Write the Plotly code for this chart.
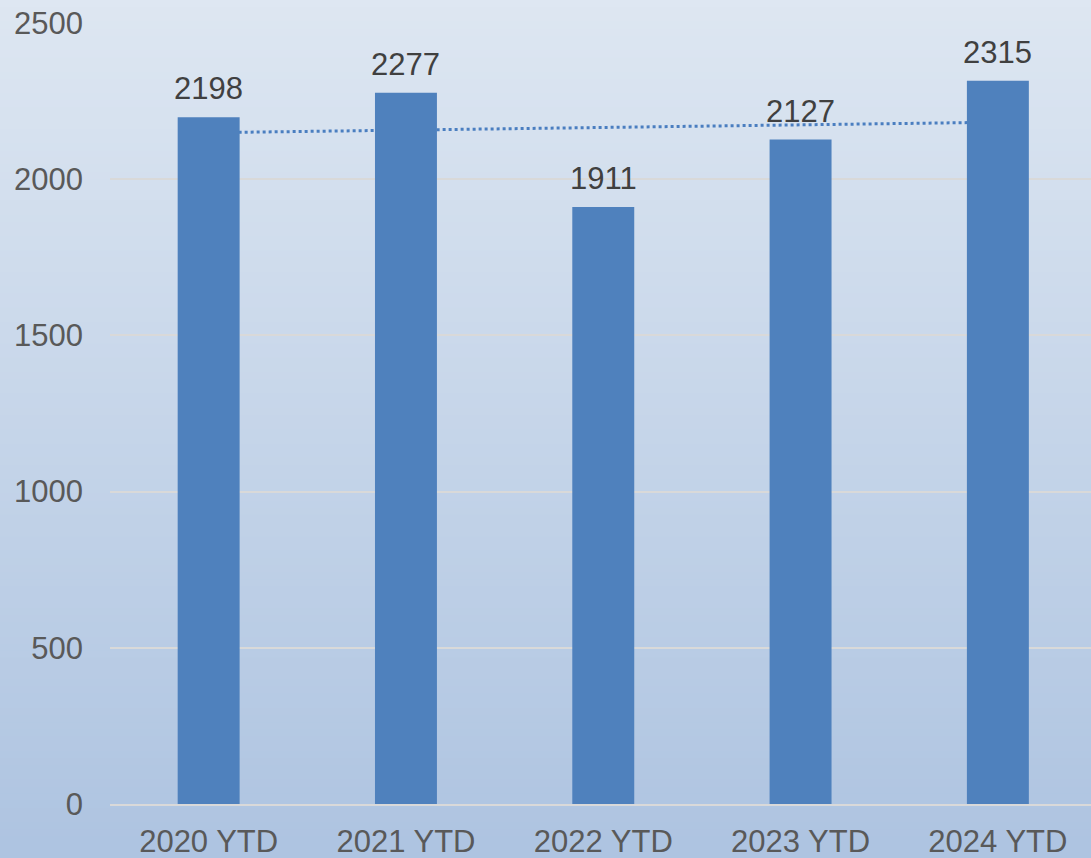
import plotly.graph_objects as go
import numpy as np

categories = ["2020 YTD", "2021 YTD", "2022 YTD", "2023 YTD", "2024 YTD"]
values = [2198, 2277, 1911, 2127, 2315]
y_ticks = [0, 500, 1000, 1500, 2000, 2500]

# linear trendline computed from the data
idx = np.arange(len(values))
slope, intercept = np.polyfit(idx, values, 1)
trend = list(slope * idx + intercept)

W, H = 1091, 858
BAR = "#4f81bd"
TXT = "#595959"

fig = go.Figure()

# trendline on base axes (drawn below the overlaying bars)
fig.add_trace(go.Scatter(
    x=categories, y=trend, mode="lines", xaxis="x", yaxis="y",
    line=dict(color="#4a7ec0", width=3, dash="dot"),
    hoverinfo="skip", showlegend=False,
))
fig.add_trace(go.Bar(
    x=categories, y=values, xaxis="x2", yaxis="y2",
    marker=dict(color=BAR, line=dict(width=0)),
    width=0.314, showlegend=False,
))

# vertical gradient background strips
top = np.array([0xde, 0xe7, 0xf2])
bot = np.array([0xae, 0xc4, 0xe1])
n = 120
PH = H - 23 - 54
shapes = []
for i in range(n):
    t = i / (n - 1)
    c = top * (1 - t) + bot * t
    y_top_px = i * H / n
    y_bot_px = (i + 1) * H / n + 1
    shapes.append(dict(
        type="rect", xref="paper", yref="paper", layer="below",
        x0=-0.2, x1=1.2,
        y0=(H - 54 - y_top_px) / PH,
        y1=(H - 54 - y_bot_px) / PH,
        fillcolor="rgb(%d,%d,%d)" % tuple(c), line=dict(width=0),
    ))

annotations = [
    dict(x=c, y=v, xref="x2", yref="y2", text=str(v), showarrow=False,
         yanchor="bottom", yshift=9, font=dict(size=31, color="#404040"))
    for c, v in zip(categories, values)
]

xr = [-0.5, 4.472]
fig.update_layout(
    width=W, height=H,
    margin=dict(l=110, r=0, t=23, b=54),
    paper_bgcolor="rgba(0,0,0,0)", plot_bgcolor="rgba(0,0,0,0)",
    font=dict(family="Liberation Sans, Arial, sans-serif", size=31, color=TXT),
    shapes=shapes, annotations=annotations,
    xaxis=dict(type="category", range=xr, showgrid=False,
               showline=True, linecolor="#d9d9d9", linewidth=2,
               ticks="", ticklabelstandoff=9, tickfont=dict(size=31, color=TXT)),
    yaxis=dict(range=[0, 2500], tickvals=y_ticks, showgrid=True,
               gridcolor="#d9d9d9", gridwidth=1.5, zeroline=False,
               ticks="", ticklabelstandoff=26, tickfont=dict(size=31, color=TXT)),
    xaxis2=dict(type="category", range=xr, overlaying="x", showgrid=False,
                showticklabels=False, showline=False, ticks=""),
    yaxis2=dict(range=[0, 2500], overlaying="y", showgrid=False,
                showticklabels=False, zeroline=False, ticks=""),
)

fig.write_html("out.html", config={"displayModeBar": False},
               post_script="document.body.style.margin='0';document.body.style.overflow='hidden';")
